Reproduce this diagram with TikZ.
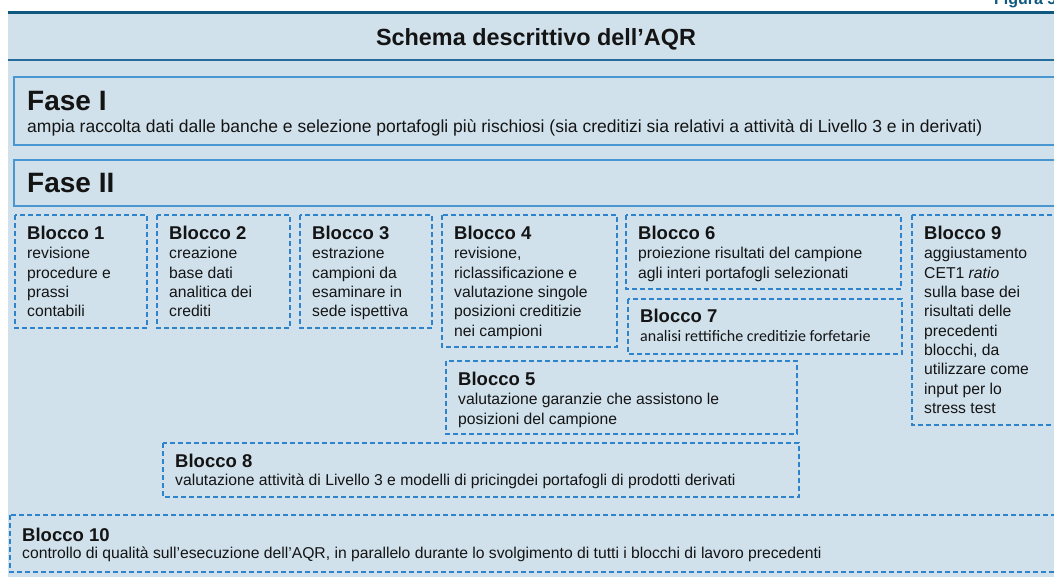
\documentclass[tikz,border=0pt]{standalone}
\usepackage{fontspec}
\setmainfont{Liberation Sans}
\newfontfamily\carlito{Carlito}
\usepackage{xcolor}
\definecolor{fondo}{RGB}{208, 225, 236}
\definecolor{scuro}{RGB}{16, 88, 128}
\definecolor{linea}{RGB}{38, 108, 158}
\definecolor{bordo}{RGB}{72, 150, 210}
\definecolor{tratto}{RGB}{45, 132, 205}
\definecolor{nero}{RGB}{20, 20, 20}

\newcommand{\tit}[1]{{\fontsize{18.5}{20}\selectfont\bfseries #1}}

\tikzset{
  fase/.style={draw=bordo, line width=1.8pt},
  blocco/.style={draw=tratto, line width=1.3pt, dash pattern=on 5pt off 3pt},
  testo/.style={anchor=north west, align=left, inner xsep=12pt, inner ysep=11pt,
    text=nero, font=\fontsize{15.7}{19.3}\selectfont},
  grande/.style={anchor=base west, inner sep=0pt, text=nero,
    font=\fontsize{28}{30}\selectfont\bfseries}
}

\begin{document}
\begin{tikzpicture}[x=1pt, y=-1pt]
  \useasboundingbox (0,0) rectangle (1054,577);
  \fill[fondo] (8,13) rectangle (1080,590);
  \draw[scuro, line width=2.5pt] (8,12.5) -- (1080,12.5);
  \draw[linea, line width=1.5pt] (8,60) -- (1080,60);
  \node[anchor=base east, inner sep=0pt, text=scuro, font=\fontsize{16}{18}\selectfont\bfseries] (figura) at (1061,5) {Figura 5.};
  \node[anchor=base, inner sep=0pt, text=nero, font=\fontsize{23.4}{26}\selectfont\bfseries] (schema) at (536,45.5) {Schema descrittivo dell’AQR};

  % fasi
  \draw[fase] (14,77) rectangle (1080,145);
  \node[grande] (fase1) at (27,111) {Fase I};
  \node[anchor=base west, inner sep=0pt, text=nero, font=\fontsize{17.5}{20}\selectfont] (fase1txt) at (27,133) {ampia raccolta dati dalle banche e selezione portafogli più rischiosi (sia creditizi sia relativi a attività di Livello 3 e in derivati)};
  \draw[fase] (14,160) rectangle (1080,206);
  \node[grande] (fase2) at (27,193) {Fase II};

  % blocchi
  \draw[blocco] (15,215) rectangle (147,328);
  \node[testo] (b1) at (15,215) {\tit{Blocco 1}\\revisione\\procedure e\\prassi\\contabili};
  \draw[blocco] (157,215) rectangle (290,328);
  \node[testo] (b2) at (157,215) {\tit{Blocco 2}\\creazione\\base dati\\analitica dei\\crediti};
  \draw[blocco] (300,215) rectangle (432,328);
  \node[testo] (b3) at (300,215) {\tit{Blocco 3}\\estrazione\\campioni da\\esaminare in\\sede ispettiva};
  \draw[blocco] (442,215) rectangle (617,347);
  \node[testo] (b4) at (442,215) {\tit{Blocco 4}\\revisione,\\riclassificazione e\\valutazione singole\\posizioni creditizie\\nei campioni};
  \draw[blocco] (626,215) rectangle (901,289);
  \node[testo] (b6) at (626,215) {\tit{Blocco 6}\\proiezione risultati del campione\\agli interi portafogli selezionati};
  \draw[blocco] (628,299) rectangle (902,354);
  \node[testo, inner ysep=10pt, font=\fontsize{15.7}{19}\selectfont] (b7) at (628,299) {\tit{Blocco 7}\\{\carlito\fontsize{16}{17}\selectfont analisi rettifiche creditizie forfetarie}};
  \draw[blocco] (912,215) rectangle (1080,425);
  \node[testo] (b9) at (912,215) {\tit{Blocco 9}\\aggiustamento\\CET1 \textit{ratio}\\sulla base dei\\risultati delle\\precedenti\\blocchi, da\\utilizzare come\\input per lo\\stress test};
  \draw[blocco] (446,361) rectangle (797,434);
  \node[testo] (b5) at (446,361) {\tit{Blocco 5}\\valutazione garanzie che assistono le\\posizioni del campione};
  \draw[blocco] (163,443) rectangle (799,497);
  \node[testo, font=\fontsize{15.7}{18}\selectfont] (b8) at (163,443) {\tit{Blocco 8}\\valutazione attività di Livello 3 e modelli di pricingdei portafogli di prodotti derivati};
  \draw[blocco] (10,515) rectangle (1080,572);
  \node[testo, font=\fontsize{15.7}{17.5}\selectfont, inner ysep=12.5pt] (b10) at (10,515) {\tit{Blocco 10}\\controllo di qualità sull’esecuzione dell’AQR, in parallelo durante lo svolgimento di tutti i blocchi di lavoro precedenti};
\end{tikzpicture}
\end{document}
